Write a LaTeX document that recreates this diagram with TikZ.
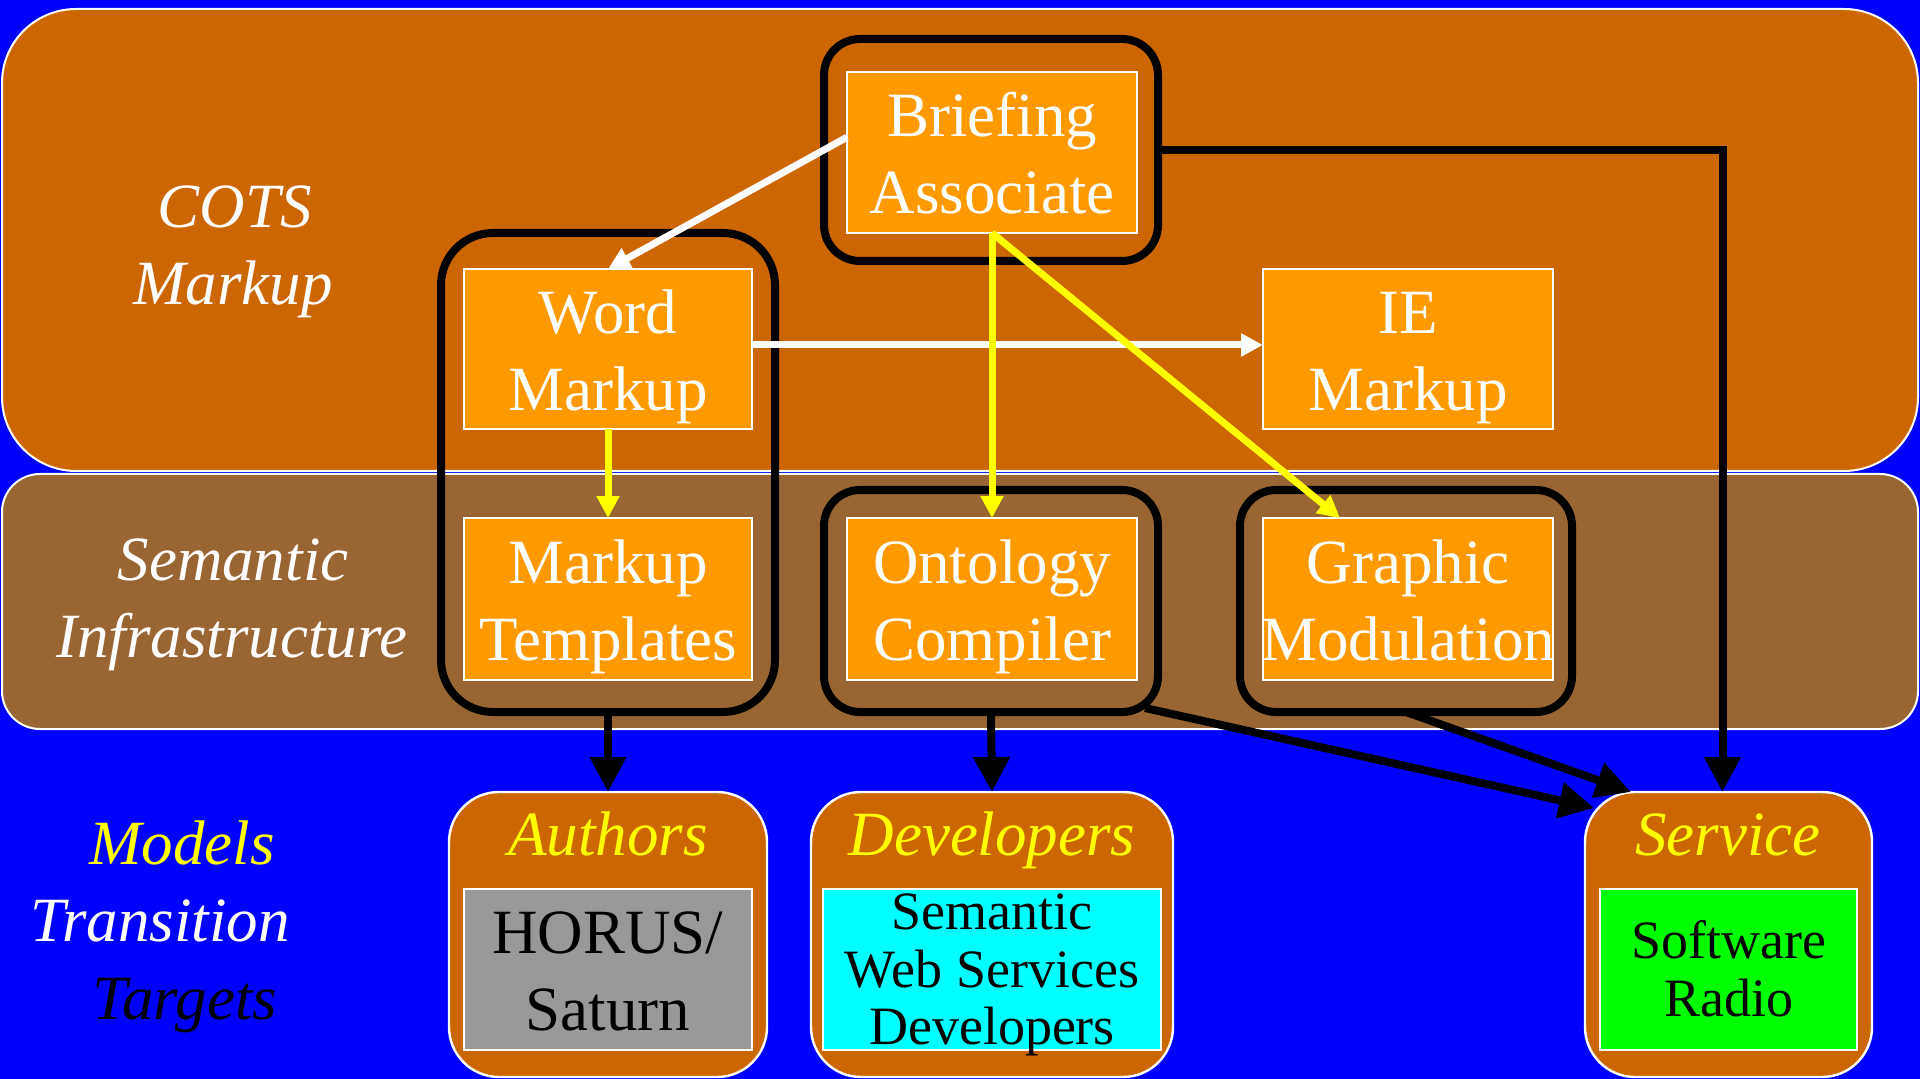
\documentclass[tikz,border=0pt]{standalone}
\usepackage{fontspec}
\setmainfont{Liberation Serif}
\usetikzlibrary{arrows.meta}
\definecolor{bgblue}{RGB}{0,0,255}
\definecolor{cotsor}{HTML}{CC6600}
\definecolor{sembr}{HTML}{996633}
\definecolor{boxor}{HTML}{FF9900}
\definecolor{greyn}{HTML}{999999}
\definecolor{cyanb}{HTML}{00FFFF}
\definecolor{greenb}{HTML}{00FF00}
\definecolor{yel}{HTML}{FFFF00}
\newcommand\bigfnt{\fontsize{31.5}{38.5}\selectfont}
\newcommand\smallfnt{\fontsize{27}{28.75}\selectfont}
\newsavebox\stkbox
\newcommand\stk[1]{\sbox\stkbox{\begin{tabular}{@{}c@{}}#1\end{tabular}}\makebox[0pt]{\raisebox{\dimexpr-0.5\ht\stkbox+0.5\dp\stkbox-0.12em\relax}[0pt][0pt]{\usebox\stkbox}}}
\tikzset{
  band/.style={draw=white, line width=1pt, rounded corners=#1, inner sep=0pt, outer sep=0pt},
  obox/.style={fill=boxor, draw=white, line width=1pt, inner sep=0pt, outer sep=0pt, text=white, font=\bigfnt},
  grp/.style={draw=black, line width=4pt, rounded corners=#1, inner sep=0pt, outer sep=0pt},
  tgt/.style={fill=cotsor, draw=white, line width=1.2pt, rounded corners=25pt, inner sep=0pt, outer sep=0pt},
  tbox/.style={draw=white, line width=1pt, inner sep=0pt, outer sep=0pt, text=black},
  lbl/.style={anchor=base, inner sep=0pt, outer sep=0pt, font=\bigfnt\itshape},
  warr/.style={draw=white, line width=3.5pt, -{Triangle[length=11pt,width=11pt]}},
  yarr/.style={draw=yel, line width=3.5pt, -{Triangle[length=11pt,width=11pt]}},
  karr/.style={draw=black, line width=4pt, -{Triangle[length=17.5pt,width=17.5pt]}},
}
\begin{document}
\begin{tikzpicture}[x=0.5pt,y=-0.5pt]
\useasboundingbox (0,0) rectangle (1920,1079);
\fill[bgblue] (0,0) rectangle (1920,1079);
% bands
\node[band=37pt, fill=cotsor, minimum width=958pt, minimum height=231pt] (cots) at (960,240) {};
\node[band=19pt, fill=sembr, minimum width=958pt, minimum height=127.5pt] (sem) at (960,601.5) {};
% left labels
\node[lbl, text=white] (cotsA) at (235,228) {COTS};
\node[lbl, text=white] (cotsB) at (233,305) {Markup};
\node[lbl, text=white] (semA) at (233,580) {Semantic};
\node[lbl, text=white] (semB) at (232,657) {Infrastructure};
\node[lbl, text=yel] (mtA) at (182,864) {Models};
\node[lbl, text=white] (mtB) at (160,941) {Transition};
\node[lbl, text=black] (mtC) at (185,1019) {Targets};
% orange boxes
\node[obox, minimum width=145pt, minimum height=80.5pt] (brief) at (992,152.5) {\stk{Briefing\\Associate}};
\node[obox, minimum width=144pt, minimum height=80pt] (word) at (608,349) {\stk{Word\\Markup}};
\node[obox, minimum width=145pt, minimum height=80pt] (ie) at (1408,349) {\stk{IE\\Markup}};
\node[obox, minimum width=144pt, minimum height=81pt] (templ) at (608,599) {\stk{Markup\\Templates}};
\node[obox, minimum width=145pt, minimum height=81pt] (onto) at (992,599) {\stk{Ontology\\Compiler}};
\node[obox, minimum width=145pt, minimum height=81pt] (graph) at (1408,599) {\stk{Graphic\\Modulation}};
% black group outlines
\node[grp=18pt, minimum width=167pt, minimum height=111pt] (bOut) at (991,150) {};
\node[grp=26pt, minimum width=167pt, minimum height=239.5pt] (wOut) at (608,472.5) {};
\node[grp=18pt, minimum width=167pt, minimum height=111pt] (oOut) at (991,601) {};
\node[grp=18pt, minimum width=166pt, minimum height=111pt] (gOut) at (1406,601) {};
% targets
\node[tgt, minimum width=159pt, minimum height=142.5pt] (auth) at (608,934.5) {};
\node[tgt, minimum width=181pt, minimum height=142.5pt] (dev) at (992,934.5) {};
\node[tgt, minimum width=143.5pt, minimum height=142.5pt] (serv) at (1728.5,934.5) {};
\node[lbl, text=yel] (authL) at (608,855) {Authors};
\node[lbl, text=yel] (devL) at (992,855) {Developers};
\node[lbl, text=yel] (servL) at (1728,855) {Service};
\node[tbox, fill=greyn, font=\bigfnt, minimum width=144pt, minimum height=80.5pt] (horus) at (608,969.5) {\stk{HORUS/\\Saturn}};
\node[tbox, fill=cyanb, font=\smallfnt, minimum width=169pt, minimum height=80.5pt] (sweb) at (992,969.5) {\stk{Semantic\\Web Services\\Developers}};
\node[tbox, fill=greenb, font=\smallfnt, minimum width=128.5pt, minimum height=80.5pt] (radio) at (1728.5,969.5) {\stk{Software\\Radio}};
% connectors
\draw[warr] (brief.174) -- (word.north);
\draw[warr] ([yshift=2pt]word.east) -- ([yshift=2pt]ie.west);
\draw[yarr] (word.south) -- (templ.north);
\draw[yarr] (brief.south) -- (onto.north);
\draw[yarr] (brief.south) -- ([xshift=-34pt]graph.north);
\draw[karr] (bOut.east) -| ([xshift=-3pt]serv.north);
\draw[karr] (wOut.south) -- (auth.north);
\draw[karr] (oOut.south) -- (dev.north);
\draw[karr] ([xshift=-6.5pt,yshift=2pt]oOut.south east) -- ([xshift=4.5pt,yshift=-8pt]serv.north west);
\draw[karr] (gOut.south) -- ([xshift=23pt]serv.north west);
\end{tikzpicture}
\end{document}
